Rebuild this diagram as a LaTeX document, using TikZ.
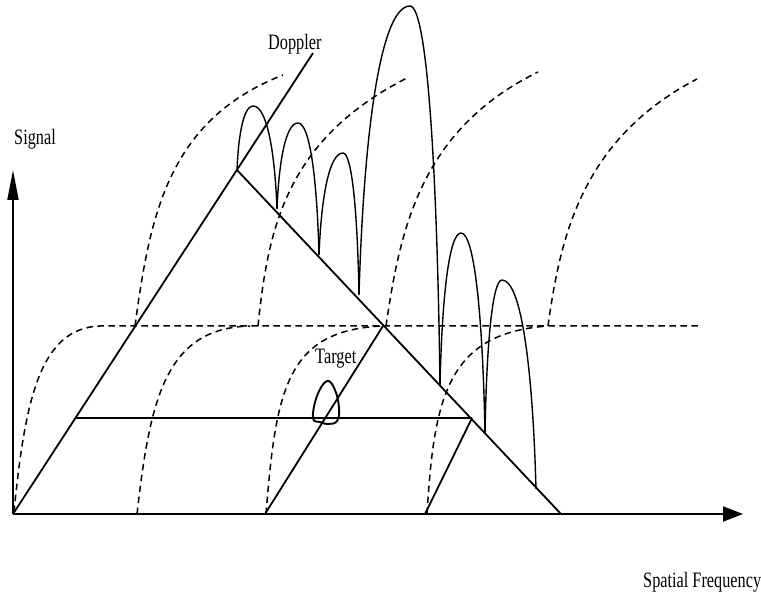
\documentclass[tikz,border=0pt]{standalone}
\usepackage{fontspec}
\newfontfamily\lblfont[FakeStretch=0.74]{Liberation Serif}
\usetikzlibrary{arrows.meta}
\tikzset{
  axisline/.style={line width=1.9pt},
  solidline/.style={line width=1.8pt},
  lobeline/.style={line width=1.4pt},
  dashcurve/.style={line width=1.5pt, dash pattern=on 6.5pt off 4.5pt},
  lbl/.style={inner sep=0pt, anchor=base west, font=\lblfont\fontsize{22}{24}\selectfont},
}
\newcommand\mylobe[6]{%
  \draw[lobeline] (#1,#2) .. controls ({#1+0.1*(#3-#1)},{#2+0.6*(#4-#2)}) and ({#3-0.55*(#3-#1)},{#4}) .. (#3,#4)
    .. controls ({#3+0.55*(#5-#3)},{#4}) and ({#5-0.1*(#5-#3)},{#6+0.6*(#4-#6)}) .. (#5,#6);}
\begin{document}
\begin{tikzpicture}[x=1pt,y=-1pt]
\useasboundingbox (0,0) rectangle (761,596);
% key points
\coordinate (O) at (13,514);
\coordinate (Ytip) at (13,170);
\coordinate (Xtip) at (743,514);
\coordinate (Dend) at (313,53);
\coordinate (Apex) at (237,170);
\coordinate (Rend) at (561,514);
\coordinate (HL) at (75,418);
\coordinate (HR) at (472,418);
\coordinate (M0) at (265,514);
\coordinate (M1) at (383,326);
\coordinate (R0) at (425,514);
% dashed curves (lower)
\draw[dashcurve] (14,512) .. controls (25,400) and (40,328) .. (100,326) -- (700,326);
\draw[dashcurve] (137,514) .. controls (150,400) and (165,328) .. (250,326);
\draw[dashcurve] (266,514) .. controls (276,390) and (286,330) .. (383,326);
\draw[dashcurve] (427,514) .. controls (434,400) and (446,333) .. (548,326);
% dashed curves (upper)
\draw[dashcurve] (135,326) .. controls (150,215) and (168,120) .. (283,75);
\draw[dashcurve] (258,326) .. controls (268,230) and (285,140) .. (407,78);
\draw[dashcurve] (386,326) .. controls (400,230) and (420,130) .. (538,72);
\draw[dashcurve] (548,326) .. controls (560,240) and (580,140) .. (697,79);
% axes
\draw[axisline, -{Triangle[length=30pt,width=11pt]}] (O) -- (Ytip);
\draw[axisline, -{Triangle[length=20pt,width=15pt]}] (O) -- (Xtip);
% Doppler lines
\draw[solidline] (O) -- (Dend);
\draw[solidline] (Apex) -- (Rend);
\draw[solidline] (HL) -- (HR);
\draw[solidline] (M0) -- (M1);
\draw[solidline] (R0) -- (HR);
% lobes
\mylobe{237}{170}{253}{106}{277}{209}
\mylobe{277}{209}{298}{123}{319}{255}
\mylobe{319}{255}{343}{153}{359}{295}
\mylobe{359}{295}{410}{6}{440}{385}
\mylobe{440}{385}{461}{233}{485}{433}
\mylobe{485}{433}{502}{280}{536}{489}
% target
\draw[line width=1.9pt] plot[smooth cycle, tension=0.7] coordinates {(313,418) (317,396) (327,381) (335,390) (339,408) (337,421) (328,424) (320,422)};
% labels
\node[lbl] (signal) at (14,145) {Signal};
\node[lbl] (doppler) at (268,50) {Doppler};
\node[lbl] (target) at (315,363) {Target};
\node[lbl] (spatial) at (643,587) {Spatial Frequency};
\end{tikzpicture}
\end{document}
